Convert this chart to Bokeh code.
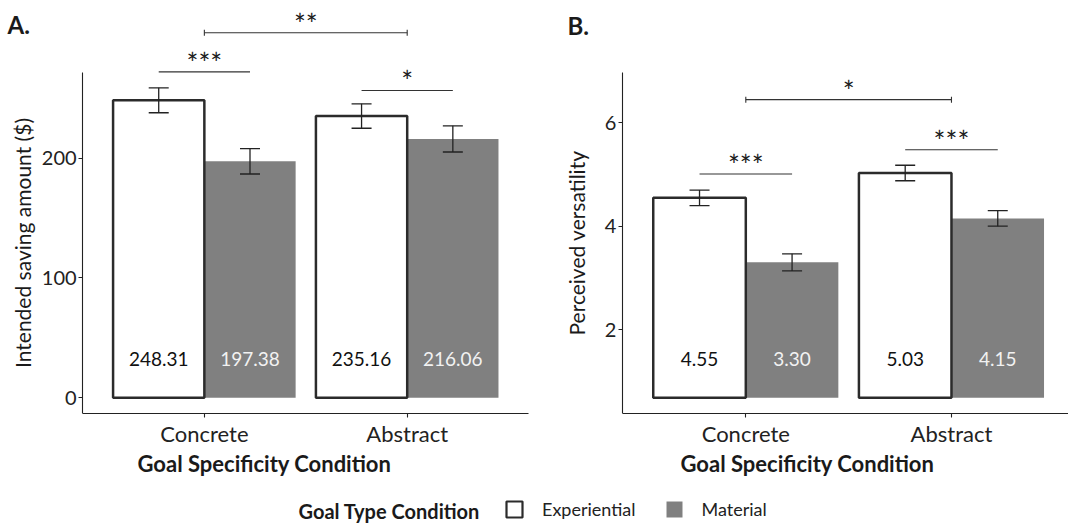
from bokeh.plotting import figure
from bokeh.models import (Range1d, FixedTicker, ColumnDataSource, Whisker, Label,
                          Legend, LegendItem, TeeHead)
from bokeh.layouts import column, row
from bokeh.embed import file_html
from bokeh.resources import INLINE
from bokeh.core.properties import value

# ---------------- data ----------------
categories = ["Concrete", "Abstract"]
goal_types = ["Experiential", "Material"]

# Panel A: intended saving amount ($)
saving_exp = [248.31, 235.16]
saving_mat = [197.38, 216.06]
saving_exp_err = [10.4, 10.2]
saving_mat_err = [10.6, 10.9]

# Panel B: perceived versatility
vers_exp = [4.55, 5.03]
vers_mat = [3.30, 4.15]
vers_exp_err = [0.15, 0.15]
vers_mat_err = [0.165, 0.15]

# significance marks
sigA_within_stars = ["***", "*"]
sigA_within_y = [272.0, 256.5]
sigA_between_stars = "**"
sigA_between_y = 304.7

sigB_within_stars = ["***", "***"]
sigB_within_y = [5.01, 5.48]
sigB_between_stars = "*"
sigB_between_y = 6.45

ticksA = [0, 100, 200]
ticksB = [2, 4, 6]

# ---------------- styles ----------------
FONT = "Lato"
GRAY = "#808080"
DARK = "#2b2b2b"
TXT = "#1a1a1a"
DODGE = 0.225
BAR_W = 0.45
FRAME_H = 413

pos = [i + 1 for i in range(len(categories))]


def make_panel(exp, mat, exp_err, mat_err, base, width, height, mb_right,
               xr, yr, xbounds, ybounds, ticks, ylabel, ystand, within_stars, within_y,
               between_stars, between_y, panel_tag, tag_xy):
    p = figure(width=width, height=height, output_backend="svg", toolbar_location=None,
               x_range=Range1d(*xr), y_range=Range1d(*yr),
               min_border_left=0, min_border_right=mb_right,
               min_border_top=0, min_border_bottom=height - FRAME_H)
    p.outline_line_color = None
    p.grid.visible = False
    p.background_fill_color = "white"
    p.border_fill_color = "white"

    xe = [x - DODGE for x in pos]
    xm = [x + DODGE for x in pos]

    src = ColumnDataSource(dict(
        xe=xe, xm=xm, exp=exp, mat=mat,
        el=[v - e for v, e in zip(exp, exp_err)], eu=[v + e for v, e in zip(exp, exp_err)],
        ml=[v - e for v, e in zip(mat, mat_err)], mu=[v + e for v, e in zip(mat, mat_err)],
        lab_e=[f"{v:.2f}" for v in exp], lab_m=[f"{v:.2f}" for v in mat],
        base=[base] * len(pos),
    ))

    p.vbar(x="xm", top="mat", bottom=base, width=BAR_W, source=src,
           fill_color=GRAY, line_color=None)
    p.vbar(x="xe", top="exp", bottom=base, width=BAR_W, source=src,
           fill_color="white", line_color=DARK, line_width=2.5)

    for xcol, lo, hi in (("xe", "el", "eu"), ("xm", "ml", "mu")):
        w = Whisker(source=src, base=xcol, lower=lo, upper=hi, dimension="height",
                    line_color="#222222", line_width=1.3, level="overlay",
                    upper_head=TeeHead(size=20, line_color="#222222", line_width=1.3),
                    lower_head=TeeHead(size=20, line_color="#222222", line_width=1.3))
        p.add_layout(w)

    p.text(x="xe", y="base", text="lab_e", source=src, text_font=value(FONT),
           text_font_size="19px", text_color="#111111", text_align="center",
           text_baseline="middle", y_offset=-39)
    p.text(x="xm", y="base", text="lab_m", source=src, text_font=value(FONT),
           text_font_size="19px", text_color="#f2f2f2", text_align="center",
           text_baseline="middle", y_offset=-39)

    # significance lines within category (experiential vs material)
    wsrc = ColumnDataSource(dict(x1=xe, x2=xm, y=within_y, s=within_stars, xc=pos))
    p.add_layout(Whisker(source=wsrc, base="y", lower="x1", upper="x2", dimension="width",
                         line_color="#333333", line_width=1.1, lower_head=None, upper_head=None,
                         level="overlay"))
    p.text(x="xc", y="y", text="s", source=wsrc, text_font=value(FONT),
           text_font_size="28px", text_color=TXT, text_align="center",
           text_baseline="alphabetic", y_offset=-9)

    # between-category bracket
    bsrc = ColumnDataSource(dict(x1=[pos[0]], x2=[pos[-1]], y=[between_y], s=[between_stars],
                                 xc=[(pos[0] + pos[-1]) / 2]))
    p.add_layout(Whisker(source=bsrc, base="y", lower="x1", upper="x2", dimension="width",
                         line_color="#333333", line_width=1.1, level="overlay",
                         lower_head=TeeHead(size=6, line_color="#333333", line_width=1.1),
                         upper_head=TeeHead(size=6, line_color="#333333", line_width=1.1)))
    p.text(x="xc", y="y", text="s", source=bsrc, text_font=value(FONT),
           text_font_size="28px", text_color=TXT, text_align="center",
           text_baseline="alphabetic", y_offset=-9)

    # axes
    p.xaxis.ticker = FixedTicker(ticks=pos)
    p.xaxis.major_label_overrides = {x: c for x, c in zip(pos, categories)}
    p.xaxis.axis_label = "Goal Specificity Condition"
    p.xaxis.bounds = xbounds
    p.yaxis.ticker = FixedTicker(ticks=ticks)
    p.yaxis.axis_label = ylabel
    p.yaxis.bounds = ybounds
    p.yaxis.fixed_location = xbounds[0]
    for ax in (p.xaxis, p.yaxis):
        ax.axis_line_color = "#222222"
        ax.axis_line_width = 1.1
        ax.major_tick_line_color = "#222222"
        ax.major_tick_line_width = 1.1
        ax.major_tick_out = 4
        ax.major_tick_in = 0
        ax.minor_tick_out = 0
        ax.minor_tick_in = 0
        ax.major_label_text_font = FONT
        ax.major_label_text_color = "#222222"
        ax.axis_label_text_font = FONT
        ax.axis_label_text_color = TXT
    p.xaxis.major_label_text_font_size = "22px"
    p.yaxis.major_label_text_font_size = "20px"
    p.xaxis.major_label_standoff = 2
    p.xaxis.axis_label_standoff = 0
    p.xaxis.axis_label_text_font_size = "22px"
    p.xaxis.axis_label_text_font_style = "bold"
    p.yaxis.major_label_standoff = 2
    p.yaxis.axis_label_standoff = ystand
    p.yaxis.axis_label_text_font_size = "21px"
    p.yaxis.axis_label_text_font_style = "normal"

    p.add_layout(Label(x=tag_xy[0], y=tag_xy[1], text=panel_tag, text_font=FONT,
                       text_font_size="24px", text_font_style="bold", text_color=TXT,
                       text_baseline="top", text_align="left"))
    return p


pA = make_panel(saving_exp, saving_mat, saving_exp_err, saving_mat_err, 0,
                546, 480, 18, (-0.005, 2.598), (-13.1, 331.6), (0.4, 2.6), (-13.1, 271.5),
                ticksA, "Intended saving amount ($)", 4, sigA_within_stars, sigA_within_y,
                sigA_between_stars, sigA_between_y, "A.", (0.03, 323.3))

pB = make_panel(vers_exp, vers_mat, vers_exp_err, vers_mat_err, 0.68,
                522, 480, 0, (0.031, 2.569), (0.374, 8.37), (0.4, 2.6), (0.374, 6.97),
                ticksB, "Perceived versatility", 13, sigB_within_stars, sigB_within_y,
                sigB_between_stars, sigB_between_y, "B.", (0.133, 8.176))

# ---------------- legend strip ----------------
pl = figure(width=1068, height=44, output_backend="svg", toolbar_location=None,
            x_range=Range1d(0, 1068), y_range=Range1d(0, 44),
            min_border_left=0, min_border_right=0, min_border_top=0, min_border_bottom=0)
pl.axis.visible = False
pl.grid.visible = False
pl.outline_line_color = None
nan = float("nan")
r_exp = pl.vbar(x=[nan], top=[nan], width=1, fill_color="white", line_color=DARK, line_width=2.2)
r_mat = pl.vbar(x=[nan], top=[nan], width=1, fill_color=GRAY, line_color=None)
leg = Legend(items=[LegendItem(label=goal_types[0], renderers=[r_exp]),
                    LegendItem(label=goal_types[1], renderers=[r_mat])],
             orientation="horizontal", location=(504, 4), glyph_width=20, glyph_height=20,
             label_standoff=18, spacing=28, padding=0, margin=0,
             border_line_color=None, background_fill_alpha=0,
             label_text_font=FONT, label_text_font_size="18px", label_text_color="#222222")
pl.add_layout(leg)
pl.add_layout(Label(x=298, y=14, text="Goal Type Condition", text_font=FONT,
                    text_font_size="20px", text_font_style="bold", text_color=TXT,
                    text_baseline="middle", text_align="left"))

layout = column(row(pA, pB), pl)
open("out.html", "w").write(file_html(layout, INLINE))
